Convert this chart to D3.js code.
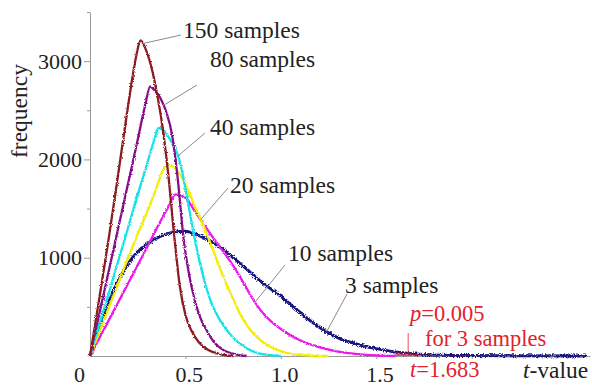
<!DOCTYPE html>
<html>
<head>
<meta charset="utf-8">
<script src="https://cdn.jsdelivr.net/npm/d3@7"></script>
<style>
  body { margin: 0; background: #fff; }
</style>
</head>
<body>
<div id="chart"></div>
<script>
// histogram of t-values, one curve per sample size
const t150 = [0, 0.05, 0.1, 0.15, 0.2, 0.24, 0.265, 0.29, 0.32, 0.35, 0.38, 0.41, 0.44, 0.47, 0.5, 0.53, 0.57, 0.62, 0.68, 0.75];
const f150 = [0, 600, 1220, 1880, 2550, 3030, 3210, 3130, 2950, 2680, 2330, 1850, 1250, 720, 420, 264, 140, 60, 20, 0];

const t80 = [0, 0.05, 0.1, 0.15, 0.2, 0.25, 0.29, 0.315, 0.34, 0.37, 0.4, 0.43, 0.46, 0.49, 0.52, 0.55, 0.58, 0.61, 0.65, 0.7, 0.77, 0.82];
const f80 = [0, 440, 880, 1320, 1760, 2200, 2560, 2740, 2700, 2620, 2480, 2250, 1800, 1200, 820, 560, 380, 264, 140, 60, 15, 0];

const t40 = [0, 0.05, 0.1, 0.15, 0.2, 0.25, 0.3, 0.335, 0.36, 0.39, 0.42, 0.45, 0.48, 0.51, 0.54, 0.57, 0.6, 0.64, 0.68, 0.72, 0.77, 0.82, 0.88, 0.95, 1.0];
const f40 = [0, 330, 650, 980, 1310, 1640, 1960, 2190, 2320, 2290, 2200, 2100, 1900, 1600, 1280, 1000, 760, 520, 370, 255, 150, 80, 30, 8, 0];

const t20 = [0, 0.05, 0.1, 0.15, 0.2, 0.25, 0.3, 0.35, 0.38, 0.41, 0.45, 0.5, 0.55, 0.6, 0.65, 0.7, 0.75, 0.8, 0.84, 0.9, 0.95, 1.0, 1.06, 1.15, 1.25];
const f20 = [0, 250, 500, 750, 1000, 1240, 1470, 1720, 1880, 1950, 1900, 1750, 1520, 1300, 1050, 800, 580, 380, 264, 150, 90, 50, 20, 5, 0];

const t10 = [0, 0.05, 0.1, 0.15, 0.2, 0.25, 0.3, 0.35, 0.4, 0.45, 0.5, 0.55, 0.6, 0.65, 0.7, 0.75, 0.8, 0.85, 0.9, 0.95, 1.0, 1.05, 1.1, 1.2, 1.3, 1.4, 1.5, 1.6];
const f10 = [0, 185, 370, 555, 740, 925, 1110, 1300, 1480, 1645, 1610, 1470, 1330, 1190, 1060, 920, 760, 590, 450, 350, 275, 210, 160, 90, 45, 20, 6, 0];

const t3 = [0, 0.05, 0.1, 0.15, 0.2, 0.25, 0.3, 0.35, 0.4, 0.45, 0.5, 0.55, 0.6, 0.65, 0.7, 0.75, 0.8, 0.85, 0.9, 0.95, 1.0, 1.05, 1.1, 1.15, 1.2, 1.25, 1.3, 1.4, 1.5, 1.6, 1.7, 1.8, 2.0, 2.2, 2.6];
const f3 = [0, 290, 560, 770, 940, 1060, 1140, 1200, 1240, 1265, 1270, 1240, 1200, 1150, 1080, 1000, 920, 835, 750, 680, 610, 525, 445, 365, 295, 235, 185, 120, 75, 40, 20, 10, 4, 2, 0];

const sampleSizes = ['3', '10', '20', '40', '80', '150'];
const seriesT = [t3, t10, t20, t40, t80, t150];
const seriesF = [f3, f10, f20, f40, f80, f150];
const seriesColors = ['#16167e', '#f014ee', '#f2ee00', '#14e2ea', '#86108a', '#8a1e22'];
// t-value where each label's leader line touches its curve
const leaderT = [1.24, 0.865, 0.58, 0.46, 0.385, 0.275];

const yTicks = [500, 1000, 1500, 2000, 2500, 3000, 3500];
const xTicks = [0.5, 1.0, 1.5, 2.0, 2.5];
const xTickLabels = ['0.5', '1.0', '1.5', '', ''];

const tCrit = 1.683;

const width = 592;
const height = 387;
const serif = '"Liberation Serif", "Times New Roman", Times, serif';
const red = '#e3222c';
const ink = '#222';

const svg = d3.select('#chart')
  .append('svg')
  .attr('width', width)
  .attr('height', height)
  .style('font-family', serif);

const x = d3.scaleLinear().domain([0, 2.62]).range([90, 590]);
const y = d3.scaleLinear().domain([0, 3500]).range([356, 12]);

// roughness so the curves look like noisy histograms
const defs = svg.append('defs');
function roughFilter(id, amount, seed) {
  const f = defs.append('filter').attr('id', id)
    .attr('x', '-5%').attr('y', '-5%').attr('width', '110%').attr('height', '110%');
  f.append('feTurbulence')
    .attr('type', 'fractalNoise').attr('baseFrequency', 0.9).attr('numOctaves', 1).attr('seed', seed)
    .attr('result', 'noise');
  f.append('feDisplacementMap')
    .attr('in', 'SourceGraphic').attr('in2', 'noise').attr('scale', amount)
    .attr('xChannelSelector', 'R').attr('yChannelSelector', 'G');
}
roughFilter('rough', 3, 3);
roughFilter('rough2', 5, 7);

function serifText(sel, size) {
  return sel.style('font-family', serif).style('font-size', (size || 23.5) + 'px');
}

// axes
const yAxis = d3.axisLeft(y)
  .tickValues(yTicks)
  .tickSize(4)
  .tickSizeOuter(0)
  .tickPadding(4)
  .tickFormat(d => d % 1000 === 0 ? d : '');
const gy = svg.append('g').attr('transform', 'translate(90,0)').call(yAxis);
gy.attr('font-family', null).attr('font-size', null);
gy.select('.domain').attr('stroke', '#9a9a9a');
gy.selectAll('.tick line').attr('stroke', '#9a9a9a')
  .attr('x2', d => d % 1000 === 0 ? -6 : -3);
serifText(gy.selectAll('.tick text'), 22).attr('fill', ink);

const xAxis = d3.axisBottom(x)
  .tickValues(xTicks)
  .tickSize(3)
  .tickSizeOuter(0)
  .tickPadding(7)
  .tickFormat((d, i) => xTickLabels[i]);
const gx = svg.append('g').attr('transform', 'translate(0,356)').call(xAxis);
gx.attr('font-family', null).attr('font-size', null);
gx.select('.domain').attr('stroke', '#9a9a9a');
gx.selectAll('.tick line').attr('stroke', '#9a9a9a');
serifText(gx.selectAll('.tick text'), 22).attr('fill', ink).attr('dx', '0.15em');

serifText(svg.append('text'), 22)
  .attr('x', x(0) - 5)
  .attr('y', 382)
  .attr('text-anchor', 'end')
  .attr('fill', ink)
  .text('0');

serifText(svg.append('text'))
  .attr('transform', 'translate(27,111) rotate(-90)')
  .attr('text-anchor', 'middle')
  .attr('fill', ink)
  .text('frequency');

const xl = serifText(svg.append('text'))
  .attr('x', 523)
  .attr('y', 378)
  .attr('fill', ink);
xl.append('tspan').attr('font-style', 'italic').text('t');
xl.append('tspan').text('-value');

// curves
const line = d3.line()
  .x(d => x(d[0]))
  .y(d => y(d[1]))
  .curve(d3.curveMonotoneX);

const seriesPoints = seriesT.map((ts, i) => ts.map((t, j) => [t, seriesF[i][j]]));

// tail beyond the critical t for 3 samples
const tail = seriesPoints[0].filter(d => d[0] >= 1.6);
const area = d3.area()
  .x(d => x(d[0]))
  .y0(y(0))
  .y1(d => y(d[1]))
  .curve(d3.curveMonotoneX);

svg.append('g')
  .selectAll('path')
  .data(seriesPoints)
  .enter()
  .append('path')
  .attr('d', line)
  .attr('fill', 'none')
  .attr('stroke', (d, i) => seriesColors[i])
  .attr('stroke-width', (d, i) => i === 0 ? 3 : 2.3)
  .attr('filter', (d, i) => i === 0 ? 'url(#rough2)' : 'url(#rough)');

svg.append('path')
  .datum(tail)
  .attr('d', area)
  .attr('fill', '#c41830')
  .attr('opacity', 0.7)
  .attr('filter', 'url(#rough)');

// leader lines and labels
const labelPos = [[345, 293], [288, 261], [230, 193], [210, 135], [210, 67], [183, 38]];
const leaderStart = [[347, 294], [285, 265], [228, 188], [205, 133], [197, 85], [181, 35]];

function valueAt(i, t) {
  const ts = seriesT[i];
  const fs = seriesF[i];
  const k = d3.bisectRight(ts, t);
  const a = (t - ts[k - 1]) / (ts[k] - ts[k - 1]);
  return fs[k - 1] + a * (fs[k] - fs[k - 1]);
}

sampleSizes.forEach((s, i) => {
  svg.append('line')
    .attr('x1', leaderStart[i][0])
    .attr('y1', leaderStart[i][1])
    .attr('x2', x(leaderT[i]))
    .attr('y2', y(valueAt(i, leaderT[i])))
    .attr('stroke', '#8a8a8a')
    .attr('stroke-width', 1);
  serifText(svg.append('text'))
    .attr('x', labelPos[i][0])
    .attr('y', labelPos[i][1])
    .attr('fill', ink)
    .text(s + ' samples');
});

// p = 0.005 marker
svg.append('line')
  .attr('x1', x(tCrit) - 3).attr('x2', x(tCrit) - 3)
  .attr('y1', 333).attr('y2', y(0))
  .attr('stroke', red)
  .attr('stroke-width', 0.8);

const p = serifText(svg.append('text'), 22.5).attr('x', 410).attr('y', 321).attr('fill', red);
p.append('tspan').attr('font-style', 'italic').text('p');
p.append('tspan').text('=0.005');
serifText(svg.append('text'), 22.5).attr('x', 425).attr('y', 346).attr('fill', red).text('for 3 samples');
const tc = serifText(svg.append('text'), 22.5).attr('x', 410).attr('y', 377).attr('fill', red);
tc.append('tspan').attr('font-style', 'italic').text('t');
tc.append('tspan').text('=' + tCrit);
</script>
</body>
</html>
